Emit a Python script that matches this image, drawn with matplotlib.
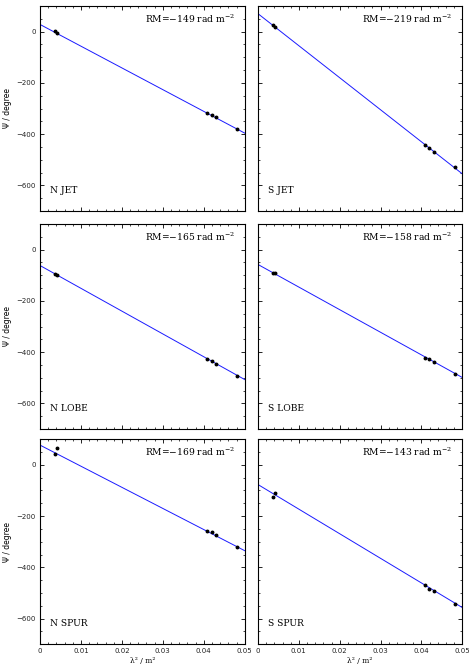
import numpy as np
import matplotlib
matplotlib.use('Agg')
import matplotlib.pyplot as plt
from matplotlib.ticker import MultipleLocator

plt.rcParams.update({
    'font.family': ['DejaVu Serif'],
    'mathtext.fontset': 'dejavuserif',
    'xtick.direction': 'in',
    'ytick.direction': 'in',
    'xtick.top': True,
    'ytick.right': True,
})

BLUE = '#1a1aff'

# lambda^2 (m^2) of the six observing frequencies
lam2 = [0.0036, 0.0041, 0.0408, 0.0419, 0.0431, 0.0482]

# panel names and RM labels (row by row, left then right)
regions = ['N JET', 'S JET', 'N LOBE', 'S LOBE', 'N SPUR', 'S SPUR']
rm_labels = [-149, -219, -165, -158, -169, -143]

# polarisation angle (degree) per region
psi_n_jet = [1, -6, -316, -325, -335, -379]
psi_s_jet = [24, 19, -441, -455, -470, -528]
psi_n_lobe = [-96, -98, -427, -436, -446, -494]
psi_s_lobe = [-90, -93, -421, -428, -439, -485]
psi_n_spur = [41, 67, -258, -262, -274, -320]
psi_s_spur = [-124, -110, -470, -483, -493, -545]
psi_all = [psi_n_jet, psi_s_jet, psi_n_lobe, psi_s_lobe, psi_n_spur, psi_s_spur]

# fitted line: angle at lambda^2 = 0 and at lambda^2 = 0.05
fit_start = [28, 70, -62, -58, 77, -77]
fit_end = [-396, -555, -507, -499, -335, -557]

W, H = 473, 670
fig = plt.figure(figsize=(W / 100, H / 100), dpi=100)

col_x = [40, 258]
col_w = [204.7, 204.3]
row_top = [6, 224, 439.2]
row_h = 205

for i, name in enumerate(regions):
    r, c = divmod(i, 2)
    left = col_x[c] / W
    bottom = 1 - (row_top[r] + row_h) / H
    ax = fig.add_axes([left, bottom, col_w[c] / W, row_h / H])

    xs = np.array([0.0, 0.05])
    ax.plot(xs, [fit_start[i], fit_end[i]], color=BLUE, lw=0.7, zorder=2)
    ax.plot(lam2, psi_all[i], 'o', color='black', ms=1.8, zorder=3)

    ax.set_xlim(0, 0.05)
    ax.set_ylim(-700, 100)
    ax.xaxis.set_major_locator(MultipleLocator(0.01))
    ax.xaxis.set_minor_locator(MultipleLocator(0.002))
    ax.yaxis.set_major_locator(MultipleLocator(200))
    ax.yaxis.set_minor_locator(MultipleLocator(50))
    ax.tick_params(which='major', length=3, width=0.6, labelsize=5, pad=3,
                   labelcolor='#222222')
    ax.tick_params(which='minor', length=1.5, width=0.5,
                   top=True, right=True)
    for lab in ax.get_xticklabels() + ax.get_yticklabels():
        lab.set_family('DejaVu Sans')
    for sp in ax.spines.values():
        sp.set_linewidth(0.8)

    ax.xaxis.set_major_formatter(plt.FuncFormatter(
        lambda v, p: '0' if abs(v) < 1e-9 else f'{v:g}'))

    if c == 1:
        ax.tick_params(labelleft=False)
    else:
        ax.set_ylabel('Ψ / degree', fontsize=5.5, family='DejaVu Sans')
        ax.yaxis.set_label_coords(-0.135, 0.5)
    if r < 2:
        ax.tick_params(labelbottom=False)
    else:
        ax.set_xlabel('λ² / m²', fontsize=5.5, labelpad=2)

    ax.text(0.95, 0.937, rf'RM=$-${abs(rm_labels[i])} rad m$^{{-2}}$',
            transform=ax.transAxes, ha='right', va='center', fontsize=6.6)
    ax.text(0.05, 0.10, name, transform=ax.transAxes,
            ha='left', va='center', fontsize=6.6)

fig.savefig('out.png', dpi=100)
